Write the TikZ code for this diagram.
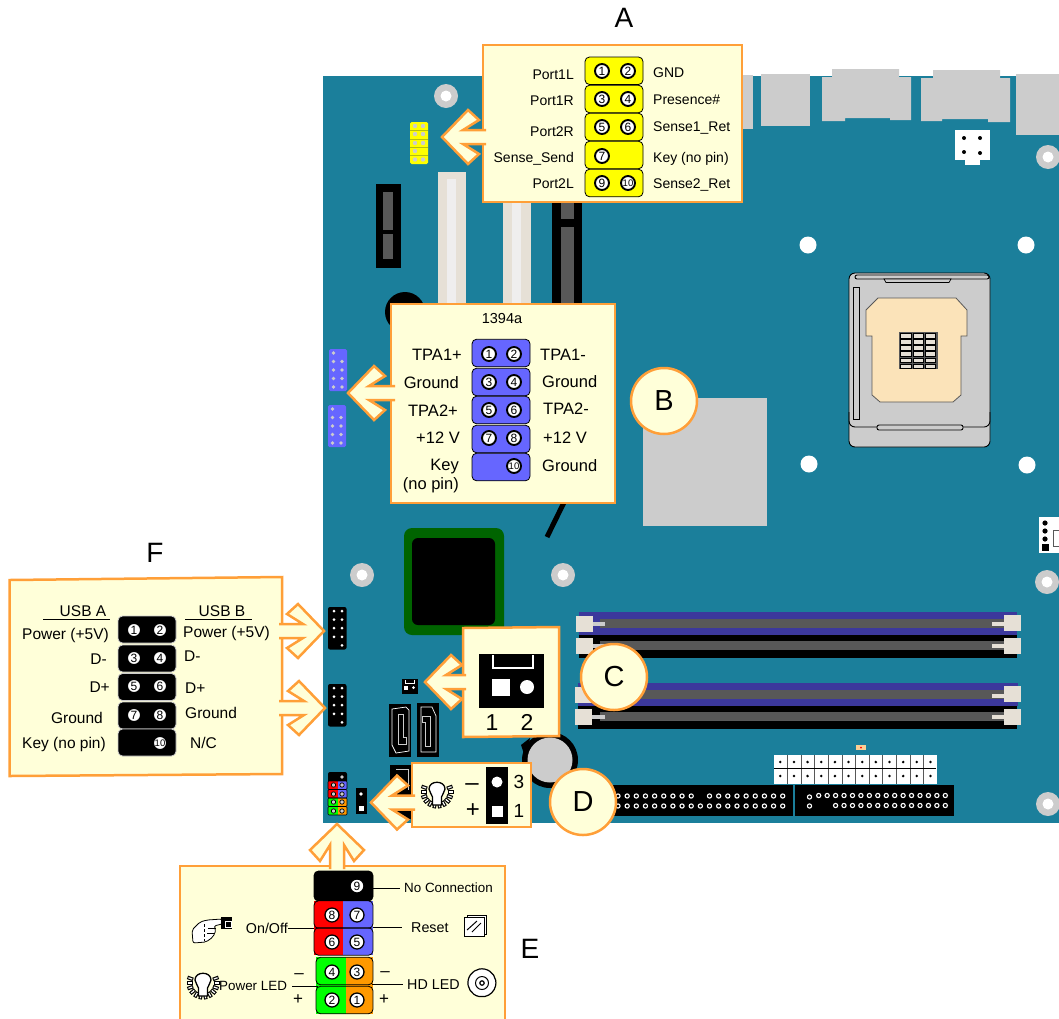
\documentclass[tikz,border=0pt]{standalone}
\usepackage{fontspec}
\setmainfont{Liberation Sans}
\definecolor{boardTeal}{HTML}{1B7F9B}
\definecolor{partGray}{HTML}{CCCCCC}
\definecolor{slotGray}{HTML}{585858}
\definecolor{slotCream}{HTML}{E6E0D6}
\definecolor{slotWhite}{HTML}{EFEEEE}
\definecolor{dimmBlue}{HTML}{3C389C}
\definecolor{chipGreen}{HTML}{006400}
\definecolor{padBeige}{HTML}{FBE3B9}
\definecolor{calloutEdge}{HTML}{FF9F38}
\definecolor{calloutFill}{HTML}{FFFFD9}
\definecolor{pinYellow}{HTML}{FFFF00}
\definecolor{pinBlue}{HTML}{6666FF}
\definecolor{pinRed}{HTML}{FF0000}
\definecolor{pinGreen}{HTML}{00FF00}
\definecolor{pinOrange}{HTML}{FF9900}
\newcommand{\fsize}[1]{\fontsize{#1}{#1}\selectfont}
\tikzset{
    pics/callout/.style={code={
      \draw [calloutline] (#1,-7) -- (21,-7) -- (37,-17) -- (26,-27) -- (0,0)
        -- (26,27) -- (37,17) -- (21,7) -- (#1,7);
    }},
    pics/bulb/.style={code={
      \foreach \a in {-20,0,...,200} {
        \draw [black,line width=3.6] (\a:10.5) -- (\a:16.5);
        \draw [white,line width=1.2] (\a:11.5) -- (\a:15.5);
      }
      \draw [fill=white,line width=1.3] (-4.5,5) .. controls (-5,2) and (-8,0) .. (-8,-3)
        .. controls (-8,-12) and (8,-12) .. (8,-3)
        .. controls (8,0) and (5,2) .. (4.5,5) -- (4.5,13) -- (-4.5,13) -- cycle;
    }},
}
\begin{document}
\begin{tikzpicture}[
    x=1pt,y=-1pt,
    calloutline/.style={
      draw=calloutEdge,
      fill=calloutFill,
      line width=2.5,
      line join=miter,
    },
    panel/.style={
      calloutline,
      rectangle,
      inner sep=0,
    },
    badge/.style={
      calloutline,
      circle,
      minimum size=66,
      inner sep=0,
      font=\fsize{29},
    },
    letter/.style={
      inner sep=0,
      font=\fsize{28},
    },
    lab/.style={
      inner sep=0,
      font=\fsize{#1},
      text height=\dimexpr#1pt*72/100\relax,
      text depth=0pt,
    },
    labA/.style={lab=14},
    labB/.style={lab=16.5},
    labF/.style={lab=15.5},
    labE/.style={lab=14.3},
    block/.style={
      draw=black,
      rectangle,
      rounded corners=4.5,
      minimum width=58,
      minimum height=27.5,
      inner sep=0,
      line width=0.8,
    },
    pin/.style={
      circle,
      draw=black,
      fill=white,
      line width=1.9,
      minimum size=14,
      inner sep=0,
      font=\fsize{12},
    },
    pinten/.style={pin,font=\fsize{9.5}},
    lead/.style={line width=1},
    ring/.style={white,line width=1.1},
  ]
    \useasboundingbox (0,0) rectangle (1059,1018);

    \fill [boardTeal] (323,76) rectangle (1059,823);

    \fill [partGray] (725,75) rectangle (753,129);
    \fill [partGray] (761,74) rectangle (810,126);
    \fill [partGray] (822,77) -- (832,77) -- (832,69) -- (899,69) -- (899,77) -- (911,77)
      -- (911,120) -- (890,120) -- (890,118) -- (845,118) -- (845,121) -- (822,121) -- cycle;
    \fill [partGray] (921,78) -- (933,78) -- (933,70) -- (1000,70) -- (1000,78) -- (1010,78)
      -- (1010,122) -- (988,122) -- (988,119) -- (942,119) -- (942,121) -- (921,121) -- cycle;
    \fill [partGray] (1016,74) rectangle (1059,135);

    \fill [white] (955,130) rectangle (990,160);
    \fill [white] (965,160) rectangle (980,165);
    \foreach \x/\y in {964/138,980/138,964/152,980/153}
      \fill [black] (\x,\y) circle (2);

    \foreach \x/\y in {808/245,1026/245,809/464,1027/465}
      \fill [white] (\x,\y) circle (8.5);
    \foreach \x/\y in {446/96,1048/157,362/575,563/575,1047/582,1048/804} {
      \fill [partGray] (\x,\y) circle (12);
      \fill [white] (\x,\y) circle (5.5);
    }

    \fill [black] (376,184) rectangle (401,268);
    \fill [slotGray] (383,192) rectangle (393,230);
    \fill [slotGray] (383,234) rectangle (393,259);
    \foreach \x in {438,503} {
      \fill [slotCream] (\x,172) rectangle (\x+28,306);
      \fill [slotWhite] (\x+9,179) rectangle (\x+18,306);
    }
    \fill [black] (552,190) rectangle (582,306);
    \fill [slotGray] (561,190) rectangle (574,219);
    \fill [slotGray] (561,227) rectangle (574,306);
    \fill [black] (405,312) circle (20);

    \draw [line width=5] (575,480) -- (547,537);
    \fill [partGray] (643,398) rectangle (767,526);

    \draw [fill=partGray,line width=0.9,rounded corners=6] (849,273) rectangle (990,447);
    \draw [line width=0.9,rounded corners=6] (849,412) -- (849,427) -- (990,427) -- (990,412);
    \draw [fill=partGray,line width=0.9,rounded corners=2] (855,275) rectangle (989,279);
    \draw [fill=partGray,line width=0.7] (884,279) -- (951,279) -- (949,282.5) -- (886,282.5) -- cycle;
    \draw [fill=partGray,line width=0.7] (853,287) rectangle (859,419);
    \draw [fill=partGray,line width=0.9,rounded corners=2] (877,425) rectangle (963,430);
    \draw [fill=padBeige,draw=slotGray,line width=0.8] (878,298) -- (956,298) -- (967,310)
      -- (967,336) -- (961,336) -- (961,395) -- (953,402) -- (880,402) -- (872,395)
      -- (872,336) -- (866,336) -- (866,310) -- cycle;
    \fill [slotGray] (899,332) rectangle (938,369);
    \foreach \x in {900.5,913,925} {
      \foreach \y in {333.5,339.6,345.7,351.8,357.9,364} {
        \draw [fill=slotCream,line width=0.7] (\x,\y) rectangle (\x+10.5,\y+4.5);
      }
    }

    \fill [chipGreen,rounded corners=8] (404,528) rectangle (504,635);
    \fill [black,rounded corners=6] (412,538) rectangle (495,625);

    \fill [dimmBlue] (579,612) rectangle (1017,635);
    \fill [black] (579,635) rectangle (1017,658);
    \fill [dimmBlue] (578,683) rectangle (1018,706);
    \fill [black] (578,706) rectangle (1017,729);
    \foreach \y in {619,641,690,712}
      \fill [slotGray] (600,\y) rectangle (1004,\y+9);
    \foreach \y in {622,644,694,715} {
      \fill [partGray] (592,\y) rectangle (605,\y+4);
      \fill [slotCream] (992,\y) rectangle (1004,\y+4);
    }
    \foreach \x/\y in {576/616,576/638,575/687,575/709,1004/615,1004/638,1004/686,1004/709}
      \fill [slotCream] (\x,\y) rectangle (\x+17,\y+16);

    \fill [black] (530,738) -- (521,745) -- (526,760) -- cycle;
    \fill [black] (550,760) circle (28);
    \fill [partGray] (550,760) circle (22.5);

    \fill [white] (774,755) rectangle (937,784);
    \foreach \i in {1,...,11}
      \draw [slotGray,line width=0.8] (774+\i*13.6,755) -- (774+\i*13.6,784);
    \draw [line width=0.8] (774,768.5) -- (936,768.5);
    \foreach \i in {0,...,11} {
      \fill [black] (780.3+\i*13.65,762) circle (1.4);
      \fill [black] (780.3+\i*13.65,776) circle (1.4);
    }
    \fill [padBeige!80!orange] (856,745) rectangle (866,750);
    \fill [pinRed] (861,747.5) circle (1);

    \fill [black] (590,785) rectangle (793,816);
    \fill [black] (795,785) rectangle (954,816);
    \foreach \i in {0,...,18} {
      \ifnum\i=9 \else
        \draw [ring,fill=black] (618+\i*9.15,796) circle (2.1);
      \fi
      \draw [ring,fill=black] (618+\i*9.15,806) circle (2.1);
    }
    \draw [ring,fill=black] (809.5,797) circle (2.1);
    \draw [ring,fill=black] (809.5,806) circle (2.1);
    \foreach \i in {0,...,15} {
      \draw [ring,fill=black] (818.7+\i*8.44,795.5) circle (2.1);
      \ifnum\i>1
        \draw [ring,fill=black] (818.7+\i*8.44,805.5) circle (2.1);
      \fi
    }

    \fill [white] (1039,517) rectangle (1059,553);
    \foreach \y in {523,531,539}
      \fill [black] (1045,\y) circle (2.6);
    \fill [black] (1042,544) rectangle (1049,551);
    \draw [slotGray,fill=white,line width=0.8] (1053,530) rectangle (1062,546);

    \fill [pinYellow,rounded corners=1.5] (410,122) rectangle (428,164);
    \foreach \y in {130.4,138.8,147.2,155.6}
      \draw [boardTeal!30!black!30!pinYellow,line width=0.4] (410,\y) -- (428,\y);
    \foreach \x/\y in {415/126,423/126,415/134,423/134,415/143,423/143,415/151,415/159.5,423/159.5}
      \fill [partGray] (\x,\y) circle (2.2);

    \foreach \x/\t in {329/349,328/405} {
      \fill [pinBlue,rounded corners=1.5] (\x,\t) rectangle (\x+18,\t+42);
      \fill [partGray] (\x+4.5,\t+4) circle (1.8);
      \foreach \r in {12.5,21,29.5,38} {
        \fill [partGray] (\x+4.5,\t+\r) circle (1.8);
        \fill [partGray] (\x+13,\t+\r) circle (1.8);
      }
    }

    \foreach \t in {607,684} {
      \fill [black,rounded corners=2] (328,\t) rectangle (346.5,\t+42.5);
      \foreach \r in {4,12.6,21.2,29.8} {
        \fill [white] (334,\t+\r) circle (1.5);
        \fill [white] (342,\t+\r) circle (1.5);
      }
      \fill [white] (342,\t+38.4) circle (1.5);
    }

    \fill [black,rounded corners=2] (328,772) rectangle (347,783);
    \fill [pinRed] (328,781) rectangle (337.5,798);
    \fill [pinBlue] (337.5,781) rectangle (347,798);
    \fill [pinGreen] (328,798) rectangle (337.5,815);
    \fill [pinOrange] (337.5,798) rectangle (347,815);
    \foreach \y in {781,789.5,798,806.5}
      \draw [rounded corners=1,line width=0.6] (328,\y) rectangle (347,\y+8.5);
    \fill [partGray] (342,777) circle (1.8);
    \foreach \y in {785,794,802,811} {
      \draw [fill=partGray,line width=0.7] (333.5,\y) circle (2.2);
      \draw [fill=partGray,line width=0.7] (342,\y) circle (2.2);
    }

    \fill [black] (356,788) rectangle (367,814);
    \fill [white] (361,794) circle (1.8);
    \fill [white] (359,805.5) rectangle (363.5,811);

    \fill [black] (402,679) rectangle (418,694);
    \draw [white,line width=0.7] (405,680) -- (405,683.5) -- (414,683.5) -- (414,680);
    \fill [white] (404,685.5) rectangle (408,690);
    \fill [white] (413.5,687.5) circle (1.5);

    \fill [black] (389,704) rectangle (411,757);
    \draw [white,line width=0.7] (392,709) -- (406,707) -- (409,710) -- (409,751) -- (396,753) -- (392,745) -- cycle;
    \draw [partGray,line width=0.7] (398,714) -- (403,714) -- (403,737) -- (406,737) -- (406,744) -- (398,744) -- cycle;
    \fill [black] (417,703) rectangle (439,757);
    \draw [white,line width=0.7] (421,707) -- (432,707) -- (436,716) -- (436,752) -- (421,752) -- cycle;
    \draw [partGray,line width=0.7] (422,716) -- (430,716) -- (430,746) -- (425,746) -- (425,722) -- (422,722) -- cycle;
    \fill [black] (390,765) rectangle (412,819);
    \draw [partGray,line width=0.7] (396,769) -- (408,769) -- (408,790);

    \node [panel,minimum width=259,minimum height=157] (PanelA) at (612.5,123.5) {};
    \pic at (442,137) {callout=44};
    \foreach \t/\b in {57/84.5,85/113,113/141,141/169,169/197}
      \node [block,fill=pinYellow] (BlockA\t) at (614,{(\t+\b)/2}) {};
    \foreach \x/\y/\n in {602/71/1,628/71/2,602/99/3,628/99/4,602/127/5,628/127/6,602/156/7,602/183/9}
      \node [pin] (PinA\n) at (\x,\y) {\n};
    \node [pinten] (PinA10) at (628,183) {10};
    \foreach \y/\t in {74/Port1L,100/Port1R,131/Port2R,157/Sense\_Send,183/Port2L}
      \node [labA,anchor=east] at (574,\y) {\t};
    \foreach \y/\t in {72/GND,99/Presence\#,126/Sense1\_Ret,157/Key (no pin),183/Sense2\_Ret}
      \node [labA,anchor=west] at (653,\y) {\t};
    \node [letter] (TitleA) at (624,18) {A};

    \node [panel,minimum width=224,minimum height=199] (PanelB) at (503,403.5) {};
    \pic at (348,393) {callout=47};
    \foreach \t/\b in {339/367,368/396,396/424,425/453,453/481}
      \node [block,fill=pinBlue] (BlockB\t) at (501,{(\t+\b)/2}) {};
    \foreach \x/\y/\n in {489/354/1,514/354/2,489/382/3,514/382/4,489/410/5,514/410/6,489/438/7,514/438/8}
      \node [pin] (PinB\n) at (\x,\y) {\n};
    \node [pinten] (PinB10) at (514,466) {10};
    \node [lab=14.5] (TitleB) at (502,318) {1394a};
    \foreach \x/\y/\t in {462/355/TPA1+,459/383/Ground,458/411/TPA2+,460/438/+12 V,459/465/Key,459/484/(no pin)}
      \node [labB,anchor=east] at (\x,\y) {\t};
    \foreach \x/\y/\t in {540/355/TPA1-,542/382/Ground,543/409/TPA2-,543/438/+12 V,542/466/Ground}
      \node [labB,anchor=west] at (\x,\y) {\t};
    \node [badge] (BadgeB) at (664,401) {B};

    \draw [calloutline] (463,628) -- (559,627) -- (559,736) -- (463,737) -- cycle;
    \pic at (425,682) {callout=41};
    \node [fill=black,minimum width=65,minimum height=54,inner sep=0] (HeaderC) at (511.5,681) {};
    \draw [white,line width=1.2] (493,655) -- (493,668) -- (533,668) -- (533,655);
    \fill [white] (492,679) rectangle (510,696);
    \fill [white] (527,687) circle (7);
    \node [lab=23] (PinC1) at (492,722) {1};
    \node [lab=23] (PinC2) at (527,722) {2};
    \node [badge] (BadgeC) at (614,677) {C};

    \node [panel,minimum width=119,minimum height=64] (PanelD) at (471.5,795) {};
    \pic at (371,802.5) {callout=44};
    \pic at (437,792) {bulb};
    \node [fill=black,minimum width=22,minimum height=57,inner sep=0] (HeaderD) at (497,795.5) {};
    \fill [white] (497,782) circle (5.5);
    \fill [white] (492,806) rectangle (503,817);
    \node [lab=19] (PinD3) at (519,782) {3};
    \node [lab=19] (PinD1) at (519,811) {1};
    \node [lab=24] (MinusD) at (472,782) {–};
    \node [lab=24] (PlusD) at (473,809) {+};
    \node [badge] (BadgeD) at (583,802) {D};

    \draw [calloutline] (180,1021) -- (180,866) -- (505,866) -- (505,1021);
    \pic [rotate=-90] at (337,824) {callout=45};
    \node [block,fill=black,minimum width=59,minimum height=30] (BlockE9) at (343.5,886) {};
    \fill [pinRed] (314,901) rectangle (343,955);
    \fill [pinBlue] (343,901) rectangle (373,955);
    \fill [pinGreen] (316,957) rectangle (346,1014);
    \fill [pinOrange] (346,957) rectangle (373,1014);
    \node [block,minimum width=59] (BlockE87) at (343.5,914.5) {};
    \node [block,minimum width=59] (BlockE65) at (343.5,941.5) {};
    \node [block,minimum width=57] (BlockE43) at (344.5,971) {};
    \node [block,minimum width=57] (BlockE21) at (344.5,1000) {};
    \foreach \x/\y/\n in {357/886/9,332/915/8,357/915/7,332/942/6,357/942/5,332/972/4,357/972/3,332/1000/2,357/1000/1}
      \node [pin,line width=1.3] (PinE\n) at (\x,\y) {\n};

    \node [lab=13.4,anchor=west] (NoConn) at (404,888) {No Connection};
    \node [labE,anchor=east] (OnOff) at (288,928) {On/Off};
    \node [labE,anchor=west] (ResetE) at (411,927) {Reset};
    \node [lab=13.4,anchor=west] (PowerLed) at (219,986) {Power LED};
    \node [labE,anchor=west] (HdLed) at (407,984) {HD LED};
    \coordinate (OnOffEnd) at (314,928);
    \coordinate (ResetEnd) at (373,927);
    \coordinate (PowerEnd) at (318,986);
    \coordinate (HdEnd) at (372,984);
    \draw [lead] (BlockE9.east |- NoConn) -- ([xshift=-4]NoConn.west);
    \draw [lead] (OnOff.east) -- (OnOffEnd);
    \draw [lead] (ResetEnd) -- ([xshift=-9]ResetE.west);
    \draw [lead] ([xshift=5]PowerLed.east) -- (PowerEnd);
    \draw [lead] (HdEnd) -- ([xshift=-4]HdLed.west);
    \foreach \x/\y/\t/\n in {299/972/–/MinusL,298/998/+/PlusL,385/970/–/MinusR,384/998/+/PlusR}
      \node [lab=17] (\n) at (\x,\y) {\t};
    \node [letter] (TitleE) at (530,949) {E};

    \draw [fill=white,line width=0.8,rounded corners=2] (192,930) -- (200,922) -- (207,920) -- (222,919)
      -- (226,922) -- (222,924) -- (214,926) -- (216,930) -- (213,937) -- (206,942) -- (193,943) -- cycle;
    \draw [line width=0.6,densely dashed] (204,924) -- (204,941);
    \draw [line width=0.6] (208,928) -- (216,928);
    \draw [line width=0.6] (207,933) -- (215,933);
    \fill [black] (221,917) rectangle (232,929);
    \draw [white,line width=0.8] (225,921) rectangle (231,927);
    \draw [fill=white,line width=0.8] (467,915) rectangle (486,934);
    \draw [fill=white,line width=0.8] (464,917) rectangle (484,936);
    \draw [line width=1] (467,930) -- (477,921);
    \draw [line width=1] (472,932) -- (481,923);
    \pic at (203,983) {bulb};
    \draw [fill=white,line width=1.2] (479,996.5) arc (102:438:14) -- cycle;
    \draw [fill=white,line width=1] (482,983) circle (6.5);
    \draw [line width=1.2] (482,983) circle (2.2);

    \draw [calloutline] (9.5,580) -- (282,577) -- (282,774) -- (9.5,776) -- cycle;
    \pic [rotate=180] at (324,631) {callout=45};
    \pic [rotate=180] at (325,708) {callout=46};
    \foreach \t/\b in {616/643,645/672,673/701,702/729,729/756}
      \node [block,draw=partGray,fill=black,minimum width=58,minimum height=27] (BlockF\t) at (147,{(\t+\b)/2}) {};
    \foreach \x/\y/\n in {134/630/1,160/630/2,134/658/3,160/658/4,134/686/5,160/686/6,134/715/7,160/715/8}
      \node [pin] (PinF\n) at (\x,\y) {\n};
    \node [pinten] (PinF10) at (160,743) {10};
    \node [labF] (UsbA) at (83,611) {USB A};
    \node [labF] (UsbB) at (222,611) {USB B};
    \draw [line width=0.8] (43,619) -- (110,619);
    \draw [line width=0.8] (185,619) -- (252,619);
    \foreach \x/\y/\t in {109/634/Power (+5V),107/659/D-,110/687/D+,103/718/Ground,106/743/Key (no pin)}
      \node [labF,anchor=east] at (\x,\y) {\t};
    \foreach \x/\y/\t in {183/632/Power (+5V),184/656/D-,185/688/D+,185/713/Ground,190/743/{N/C}}
      \node [labF,anchor=west] at (\x,\y) {\t};
    \node [letter] (TitleF) at (155,553) {F};
\end{tikzpicture}
\end{document}
